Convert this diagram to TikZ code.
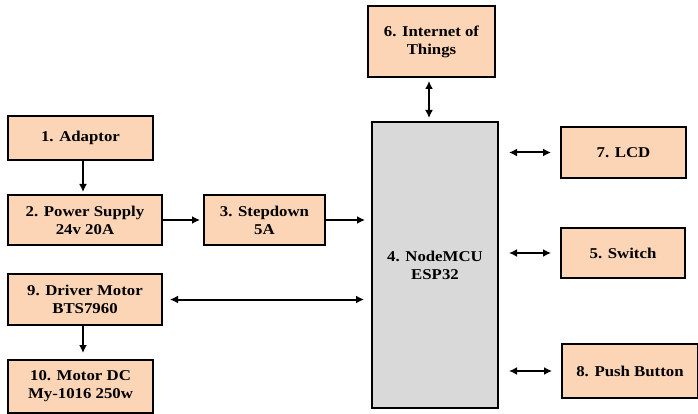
\documentclass[tikz,border=0pt]{standalone}
\usepackage{fontspec}
\setmainfont{Liberation Serif}[FakeStretch=1.12]
\usepackage{tikz}
\usetikzlibrary{arrows.meta,calc,positioning}
\definecolor{blockPeach}{HTML}{FBD5B5}
\definecolor{blockGray}{HTML}{D9D9D9}

\begin{document}
\begin{tikzpicture}[
  x=1pt,
  y=-1pt,
  >=Latex,
  line/.style={-{Latex[length=8pt,width=8pt]}, line width=2pt, draw=black},
  dline/.style={{Latex[length=8pt,width=8pt]}-{Latex[length=8pt,width=8pt]}, line width=2pt, draw=black},
  block/.style={
    draw=black,
    line width=2pt,
    align=center,
    fill=blockPeach,
    inner sep=2pt,
    font=\fontsize{15}{18}\selectfont\bfseries
  },
  mcubox/.style={block, fill=blockGray}
]
\useasboundingbox (0,0) rectangle (698,414);
\node[block, minimum width=145, minimum height=44]  (adaptor)  at (80.5, 138)  {1. Adaptor};
\node[block, minimum width=154, minimum height=50]  (power)    at (85, 220)    {2. Power Supply\\24v 20A};
\node[block, minimum width=121, minimum height=50]  (stepdown) at (264.5, 220) {3. Stepdown\\5A};
\node[block, minimum width=154, minimum height=51]  (driver)   at (85, 299.5)  {9. Driver Motor\\BTS7960};
\node[block, minimum width=145, minimum height=53]  (motor)    at (80.5, 386.5) {10. Motor DC\\My-1016 250w};
\node[block, minimum width=127, minimum height=71]  (iot)      at (431.5, 41.5) {6. Internet of\\Things};
\node[mcubox, minimum width=126, minimum height=286] (mcu)     at (435, 265)   {4. NodeMCU\\ESP32};
\node[block, minimum width=125, minimum height=51]  (lcd)      at (623.5, 152.5) {7. LCD};
\node[block, minimum width=124, minimum height=50]  (switch)   at (623, 253)   {5. Switch};
\node[block, minimum width=136, minimum height=54]  (push)     at (630, 371)   {8. Push Button};

\draw[line, shorten >=2pt] (adaptor.south -| 83,0) -- (power.north -| 83,0);
\draw[line, shorten >=3pt] (power) -- (stepdown);
\draw[line, shorten >=6pt] (stepdown) -- (mcu.west |- stepdown.east);
\draw[dline, shorten <=7pt, shorten >=7pt] (driver.east) -- (mcu.west |- driver.east);
\draw[line, shorten >=6pt] (driver.south -| 83,0) -- (motor.north -| 83,0);
\draw[dline, shorten <=3pt, shorten >=3pt] (iot.south -| 429,0) -- (mcu.north -| 429,0);
\draw[dline, shorten <=10pt, shorten >=9pt] (mcu.east |- lcd.west) -- (lcd.west);
\draw[dline, shorten <=10pt, shorten >=9pt] (mcu.east |- switch.west) -- (switch.west);
\draw[dline, shorten <=10pt, shorten >=9pt] (mcu.east |- push.west) -- (push.west);
\end{tikzpicture}
\end{document}
